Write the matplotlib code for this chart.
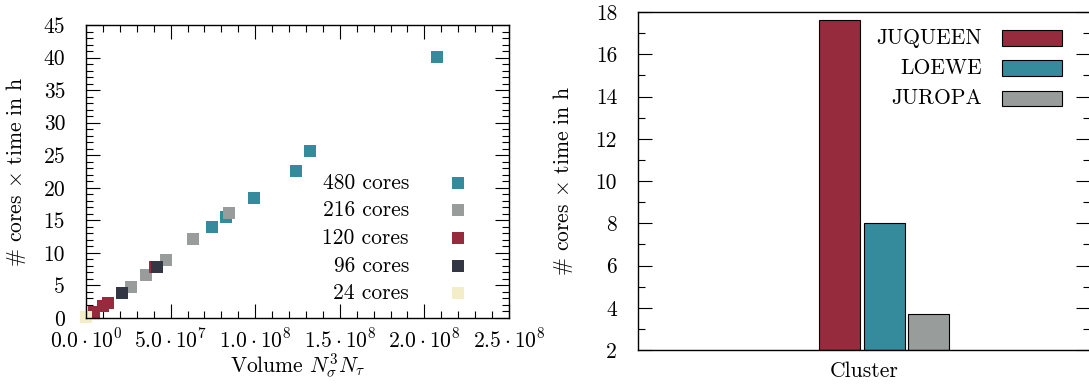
import numpy as np
import matplotlib
matplotlib.use('Agg')
import matplotlib.pyplot as plt
from matplotlib.ticker import MultipleLocator, FuncFormatter
from matplotlib.patches import Rectangle

plt.rcParams['font.family'] = 'serif'
plt.rcParams['font.serif'] = ['cmr10']
plt.rcParams['mathtext.fontset'] = 'cm'
plt.rcParams['axes.unicode_minus'] = False
plt.rcParams['axes.formatter.use_mathtext'] = True
plt.rcParams['font.size'] = 15.5

# Данные: объём решётки -> ядро*часы
vol_480 = [74.5e6, 82.9e6, 99.5e6, 124e6, 132.4e6, 207.2e6]
cost_480 = [13.9, 15.5, 18.5, 22.6, 25.7, 40.1]
vol_216 = [26.6e6, 35.5e6, 47.3e6, 63.4e6, 84.5e6]
cost_216 = [4.8, 6.55, 8.9, 12.1, 16.2]
vol_120 = [4.9e6, 9.8e6, 13.2e6, 41e6]
cost_120 = [0.9, 1.8, 2.35, 7.9]
vol_96 = [21e6, 42e6]
cost_96 = [3.8, 7.9]
vol_24 = [0.0]
cost_24 = [0.1]

clusters = ['JUQUEEN', 'LOEWE', 'JUROPA']
cluster_cost = [17.6, 8.0, 3.7]

c_red = '#952b3d'
c_teal = '#358a9b'
c_gray = '#989c9b'
c_dark = '#333744'
c_beige = '#f3edc8'

W, H = 1089, 385
fig = plt.figure(figsize=(W/100, H/100), dpi=100)

def px(x, y):
    return x / W, 1 - y / H

# --- левый график ---
ax1 = fig.add_axes([86/W, 1-318/H, (509-86)/W, (318-25)/H])
series = [(vol_480, cost_480, c_teal, '480 cores'),
          (vol_216, cost_216, c_gray, '216 cores'),
          (vol_120, cost_120, c_red, '120 cores'),
          (vol_96, cost_96, c_dark, '96 cores'),
          (vol_24, cost_24, c_beige, '24 cores')]
for xs, ys, col, lab in series:
    ax1.plot(xs, ys, 's', color=col, ms=8, mew=0, clip_on=False)

ax1.set_xlim(0, 2.5e8)
ax1.set_ylim(0, 45)
ax1.xaxis.set_major_locator(MultipleLocator(5e7))
ax1.xaxis.set_minor_locator(MultipleLocator(1e7))
ax1.yaxis.set_major_locator(MultipleLocator(5))
ax1.yaxis.set_minor_locator(MultipleLocator(1))

def sci(v, pos):
    if v <= 0:
        return r'$0.0\cdot10^{0}$' if v == 0 else ''
    e = int(np.floor(np.log10(v)))
    return r'$%.1f\cdot10^{%d}$' % (v / 10**e, e)

ax1.xaxis.set_major_formatter(FuncFormatter(sci))
ax1.yaxis.set_major_formatter(FuncFormatter(lambda v, p: '%d' % v))
ax1.set_xlabel(r'Volume $N_\sigma^3 N_\tau$', labelpad=0)
ax1.set_ylabel(r'$\#$ cores $\times$ time in h')
ax1.yaxis.set_label_coords(-0.137, 0.5)

# легенда слева (текст выровнен вправо, маркер справа)
rows = [183, 210, 238, 266, 293]
for (xs, ys, col, lab), ry in zip(series, rows):
    fig.text(*px(409, ry), lab, ha='right', va='center')
    ax1.plot(*px(458, ry), 's', color=col, ms=8, mew=0,
             transform=fig.transFigure, clip_on=False)

# --- правый график ---
ax2 = fig.add_axes([638/W, 1-350/H, (1089.5-638)/W, (350-12)/H])
pos = np.arange(len(clusters)) - 1
bar_cols = [c_red, c_teal, c_gray]
ax2.bar(pos, np.array(cluster_cost) - 2, bottom=2, width=0.916,
        color=bar_cols, edgecolor='black', linewidth=0.8)
ax2.set_xlim(-5.5, 4.59)
ax2.set_ylim(2, 18)
ax2.set_xticks([])
ax2.yaxis.set_major_locator(MultipleLocator(2))
ax2.yaxis.set_minor_locator(MultipleLocator(1))
ax2.yaxis.set_major_formatter(FuncFormatter(lambda v, p: '%d' % v))
ax2.set_xlabel('Cluster', labelpad=8)
ax2.set_ylabel(r'$\#$ cores $\times$ time in h')
ax2.yaxis.set_label_coords(-0.1395, 0.5)

for name, col, ry in zip(clusters, bar_cols, [38, 68, 98]):
    fig.text(*px(982, ry), name, ha='right', va='center')
    x0, y0 = px(1002, ry + 7.5)
    fig.add_artist(Rectangle((x0, y0), 60/W, 15/H, transform=fig.transFigure,
                             facecolor=col, edgecolor='black', linewidth=0.8))

for ax in (ax1, ax2):
    ax.tick_params(which='both', direction='in', top=True, right=True, pad=15)
    ax.tick_params(axis='x', pad=7)
    ax.tick_params(which='major', length=10, width=0.8)
    ax.tick_params(which='minor', length=5, width=0.8)
    for s in ax.spines.values():
        s.set_linewidth(1.0)
ax2.tick_params(axis='x', which='both', top=False, bottom=False)

fig.savefig('out.png', dpi=100)
